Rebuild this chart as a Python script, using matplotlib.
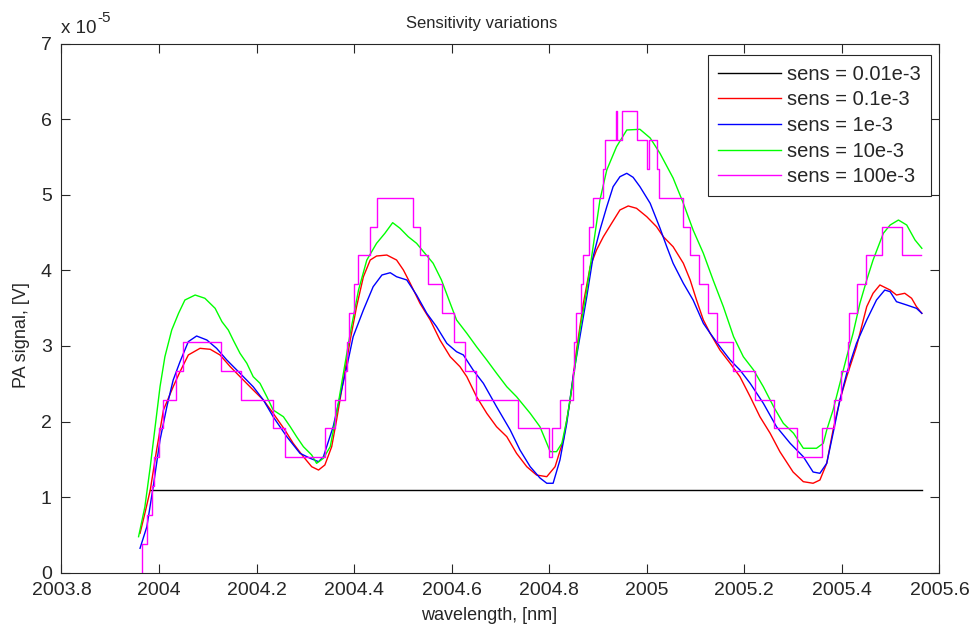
import matplotlib
matplotlib.use("Agg")
import matplotlib.pyplot as plt

plt.rcParams['font.family'] = ['Liberation Sans', 'DejaVu Sans']

# ---------------- data (PA signal in units of 1e-5 V) ----------------
black_x = [2003.982, 2005.564]
black_y = [1.094, 1.094]

red_x = [2003.961, 2003.971, 2003.982, 2003.995, 2004.009, 2004.029, 2004.043, 2004.060,
         2004.084, 2004.105, 2004.125, 2004.146, 2004.166, 2004.193, 2004.214, 2004.234,
         2004.258, 2004.275, 2004.296, 2004.313, 2004.327, 2004.340, 2004.354, 2004.364,
         2004.378, 2004.392, 2004.405, 2004.419, 2004.433, 2004.446, 2004.467, 2004.487,
         2004.501, 2004.515, 2004.535, 2004.556, 2004.576, 2004.597, 2004.617, 2004.631,
         2004.651, 2004.672, 2004.692, 2004.713, 2004.733, 2004.754, 2004.774, 2004.795,
         2004.812, 2004.829, 2004.843, 2004.856, 2004.870, 2004.884, 2004.897, 2004.911,
         2004.928, 2004.945, 2004.962, 2004.979, 2005.000, 2005.020, 2005.034, 2005.054,
         2005.075, 2005.089, 2005.102, 2005.116, 2005.130, 2005.150, 2005.171, 2005.191,
         2005.212, 2005.232, 2005.253, 2005.273, 2005.300, 2005.321, 2005.341, 2005.355,
         2005.369, 2005.382, 2005.396, 2005.410, 2005.430, 2005.451, 2005.464, 2005.478,
         2005.499, 2005.512, 2005.529, 2005.543, 2005.553, 2005.564]
red_y = [0.521, 0.786, 1.094, 1.623, 2.152, 2.460, 2.659, 2.880,
         2.968, 2.955, 2.880, 2.725, 2.593, 2.417, 2.284, 2.108,
         1.888, 1.712, 1.534, 1.402, 1.358, 1.425, 1.667, 2.020,
         2.549, 3.078, 3.519, 3.915, 4.136, 4.189, 4.202, 4.136,
         4.004, 3.828, 3.563, 3.343, 3.078, 2.857, 2.725, 2.593,
         2.328, 2.108, 1.931, 1.799, 1.579, 1.402, 1.292, 1.270,
         1.402, 1.755, 2.284, 2.946, 3.563, 4.048, 4.269, 4.444,
         4.622, 4.798, 4.851, 4.820, 4.709, 4.577, 4.444, 4.312,
         4.093, 3.872, 3.607, 3.343, 3.167, 2.946, 2.770, 2.593,
         2.328, 2.063, 1.844, 1.600, 1.332, 1.204, 1.183, 1.226,
         1.447, 1.888, 2.284, 2.593, 2.989, 3.519, 3.696, 3.806,
         3.739, 3.673, 3.696, 3.630, 3.519, 3.431]

blue_x = [2003.961, 2003.975, 2003.988, 2004.002, 2004.016, 2004.029, 2004.043, 2004.060,
          2004.077, 2004.098, 2004.118, 2004.139, 2004.166, 2004.193, 2004.214, 2004.234,
          2004.262, 2004.289, 2004.310, 2004.327, 2004.337, 2004.357, 2004.371, 2004.385,
          2004.398, 2004.419, 2004.439, 2004.457, 2004.474, 2004.487, 2004.508, 2004.528,
          2004.549, 2004.569, 2004.590, 2004.610, 2004.624, 2004.644, 2004.665, 2004.692,
          2004.720, 2004.740, 2004.761, 2004.781, 2004.795, 2004.808, 2004.822, 2004.836,
          2004.849, 2004.863, 2004.877, 2004.890, 2004.904, 2004.918, 2004.931, 2004.945,
          2004.959, 2004.972, 2004.986, 2005.007, 2005.027, 2005.041, 2005.054, 2005.075,
          2005.095, 2005.116, 2005.130, 2005.150, 2005.171, 2005.191, 2005.212, 2005.239,
          2005.266, 2005.294, 2005.321, 2005.341, 2005.355, 2005.369, 2005.382, 2005.396,
          2005.410, 2005.430, 2005.451, 2005.471, 2005.488, 2005.499, 2005.512, 2005.533,
          2005.553, 2005.564]
blue_y = [0.323, 0.608, 1.138, 1.755, 2.196, 2.549, 2.791, 3.056,
          3.131, 3.078, 2.968, 2.813, 2.638, 2.460, 2.284, 2.063,
          1.799, 1.579, 1.513, 1.468, 1.534, 1.931, 2.328, 2.725,
          3.122, 3.475, 3.783, 3.938, 3.968, 3.915, 3.872, 3.673,
          3.431, 3.254, 3.034, 2.923, 2.880, 2.681, 2.505, 2.196,
          1.888, 1.623, 1.402, 1.253, 1.183, 1.183, 1.491, 1.976,
          2.593, 3.122, 3.651, 4.180, 4.533, 4.841, 5.106, 5.238,
          5.283, 5.230, 5.106, 4.886, 4.560, 4.312, 4.093, 3.828,
          3.607, 3.299, 3.167, 2.989, 2.813, 2.681, 2.505, 2.241,
          1.931, 1.712, 1.534, 1.332, 1.315, 1.447, 1.844, 2.284,
          2.638, 3.034, 3.343, 3.607, 3.739, 3.717, 3.585, 3.541,
          3.497, 3.431]

green_x = [2003.958, 2003.971, 2003.982, 2003.992, 2004.002, 2004.012, 2004.026, 2004.040,
           2004.053, 2004.074, 2004.094, 2004.115, 2004.129, 2004.142, 2004.152, 2004.166,
           2004.180, 2004.193, 2004.207, 2004.221, 2004.234, 2004.255, 2004.269, 2004.282,
           2004.296, 2004.313, 2004.323, 2004.337, 2004.351, 2004.364, 2004.378, 2004.392,
           2004.409, 2004.426, 2004.446, 2004.463, 2004.479, 2004.494, 2004.511, 2004.528,
           2004.545, 2004.562, 2004.579, 2004.597, 2004.610, 2004.631, 2004.651, 2004.672,
           2004.692, 2004.713, 2004.733, 2004.761, 2004.781, 2004.795, 2004.802, 2004.815,
           2004.826, 2004.836, 2004.849, 2004.863, 2004.877, 2004.890, 2004.904, 2004.918,
           2004.938, 2004.959, 2004.986, 2005.007, 2005.027, 2005.054, 2005.075, 2005.095,
           2005.116, 2005.136, 2005.157, 2005.178, 2005.198, 2005.219, 2005.239, 2005.260,
           2005.280, 2005.301, 2005.321, 2005.348, 2005.362, 2005.369, 2005.382, 2005.396,
           2005.410, 2005.423, 2005.437, 2005.451, 2005.464, 2005.485, 2005.499, 2005.516,
           2005.533, 2005.550, 2005.564]
green_y = [0.476, 0.873, 1.402, 1.931, 2.460, 2.857, 3.210, 3.431,
           3.607, 3.673, 3.630, 3.497, 3.320, 3.210, 3.078, 2.902,
           2.770, 2.593, 2.505, 2.328, 2.152, 2.063, 1.931, 1.799,
           1.667, 1.557, 1.447, 1.513, 1.667, 2.108, 2.638, 3.167,
           3.739, 4.136, 4.357, 4.489, 4.630, 4.556, 4.444, 4.357,
           4.225, 4.093, 3.872, 3.563, 3.343, 3.167, 2.989, 2.813,
           2.638, 2.460, 2.328, 2.108, 1.931, 1.712, 1.601, 1.601,
           1.712, 2.020, 2.549, 3.210, 3.739, 4.312, 4.930, 5.327,
           5.635, 5.856, 5.865, 5.750, 5.548, 5.221, 4.886, 4.533,
           4.225, 3.872, 3.519, 3.122, 2.857, 2.681, 2.460, 2.196,
           1.976, 1.844, 1.646, 1.646, 1.712, 1.888, 2.152, 2.505,
           2.857, 3.167, 3.563, 3.872, 4.136, 4.489, 4.599, 4.665,
           4.599, 4.401, 4.291]

# quantised (staircase) signal: x where each level starts, and the level value
magenta_x = [2003.965, 2003.965, 2003.975, 2003.986, 2003.990, 2004.000, 2004.008, 2004.034,
             2004.050, 2004.128, 2004.168, 2004.234, 2004.258, 2004.340, 2004.360, 2004.381,
             2004.385, 2004.389, 2004.399, 2004.408, 2004.432, 2004.446, 2004.521, 2004.535,
             2004.552, 2004.581, 2004.604, 2004.628, 2004.649, 2004.736, 2004.799, 2004.806,
             2004.823, 2004.849, 2004.850, 2004.854, 2004.866, 2004.869, 2004.881, 2004.889,
             2004.910, 2004.915, 2004.936, 2004.938, 2004.950, 2004.980, 2005.001, 2005.004,
             2005.020, 2005.025, 2005.074, 2005.089, 2005.108, 2005.125, 2005.145, 2005.176,
             2005.222, 2005.260, 2005.308, 2005.360, 2005.383, 2005.399, 2005.412, 2005.415,
             2005.432, 2005.449, 2005.482, 2005.523, 2005.562]
magenta_y = [0.000, 0.382, 0.763, 1.145, 1.526, 1.908, 2.289, 2.671,
             3.052, 2.671, 2.289, 1.908, 1.526, 1.908, 2.289, 2.671,
             3.052, 3.434, 3.815, 4.197, 4.578, 4.960, 4.578, 4.197,
             3.815, 3.434, 3.052, 2.671, 2.289, 1.908, 1.526, 1.908,
             2.289, 2.671, 3.052, 3.434, 3.815, 4.197, 4.578, 4.960,
             5.341, 5.723, 6.104, 5.723, 6.104, 5.723, 5.341, 5.723,
             5.341, 4.960, 4.578, 4.197, 3.815, 3.434, 3.052, 2.671,
             2.289, 1.908, 1.526, 1.908, 2.289, 2.671, 3.052, 3.434,
             3.815, 4.197, 4.578, 4.197, 4.197]

labels = ['sens = 0.01e-3', 'sens = 0.1e-3', 'sens = 1e-3', 'sens = 10e-3', 'sens = 100e-3']
xticks = [2003.8, 2004, 2004.2, 2004.4, 2004.6, 2004.8, 2005, 2005.2, 2005.4, 2005.6]
xtick_labels = ['2003.8', '2004', '2004.2', '2004.4', '2004.6', '2004.8', '2005', '2005.2', '2005.4', '2005.6']
yticks = [0, 1, 2, 3, 4, 5, 6, 7]

# ---------------- figure ----------------
W, H = 979, 630
fig = plt.figure(figsize=(W / 100, H / 100), dpi=100)
L, R, B, T = 61.5, 939.4, 572.7, 43.5
ax = fig.add_axes([L / W, 1 - B / H, (R - L) / W, (B - T) / H])

txt = '#262626'
lw = 1.0
ax.plot(black_x, black_y, color='k', lw=lw, label=labels[0])
ax.plot(red_x, red_y, color='#ff0000', lw=lw, label=labels[1])
ax.plot(blue_x, blue_y, color='#0000ff', lw=lw, label=labels[2])
ax.plot(green_x, green_y, color='#00ff00', lw=lw, label=labels[3])
ax.step(magenta_x, magenta_y, where='post', color='#ff00ff', lw=lw, label=labels[4])

ax.set_xlim(2003.8, 2005.6)
ax.set_ylim(0, 7)
ax.set_xticks(xticks)
ax.set_xticklabels(xtick_labels)
ax.set_yticks(yticks)
ax.tick_params(direction='in', length=6.5, width=0.8, top=True, right=True,
               labelsize=14, colors='#262626', pad=7)
for s in ax.spines.values():
    s.set_linewidth(0.8)
    s.set_color('#262626')

ax.set_title('Sensitivity variations', fontsize=12, color=txt, pad=11, x=0.479)
ax.set_xlabel('wavelength, [nm]', fontsize=13, color=txt, labelpad=5)
ax.xaxis.set_label_coords(0.4875, -0.065)
ax.set_ylabel('PA signal, [V]', fontsize=13, color=txt)
ax.yaxis.set_label_coords(-0.036, 0.449)

ax.annotate('x 10', xy=(0, 1), xycoords='axes fraction', xytext=(0, 10.5),
            textcoords='offset pixels', ha='left', va='baseline', fontsize=13.5, color=txt)
ax.annotate('-5', xy=(0, 1), xycoords='axes fraction', xytext=(36, 21.5),
            textcoords='offset pixels', ha='left', va='baseline', fontsize=11, color=txt)

leg = ax.legend(loc='upper right', bbox_to_anchor=(1 - 8.7 / (R - L), 1 - 11.2 / (B - T)),
                borderaxespad=0, fontsize=14.5, handlelength=3.1, handletextpad=0.3,
                labelspacing=0.33, borderpad=0.5, fancybox=False, framealpha=1,
                edgecolor='#262626')
leg.get_frame().set_linewidth(0.8)
for t in leg.get_texts():
    t.set_color(txt)

fig.savefig('out.png', dpi=100)
